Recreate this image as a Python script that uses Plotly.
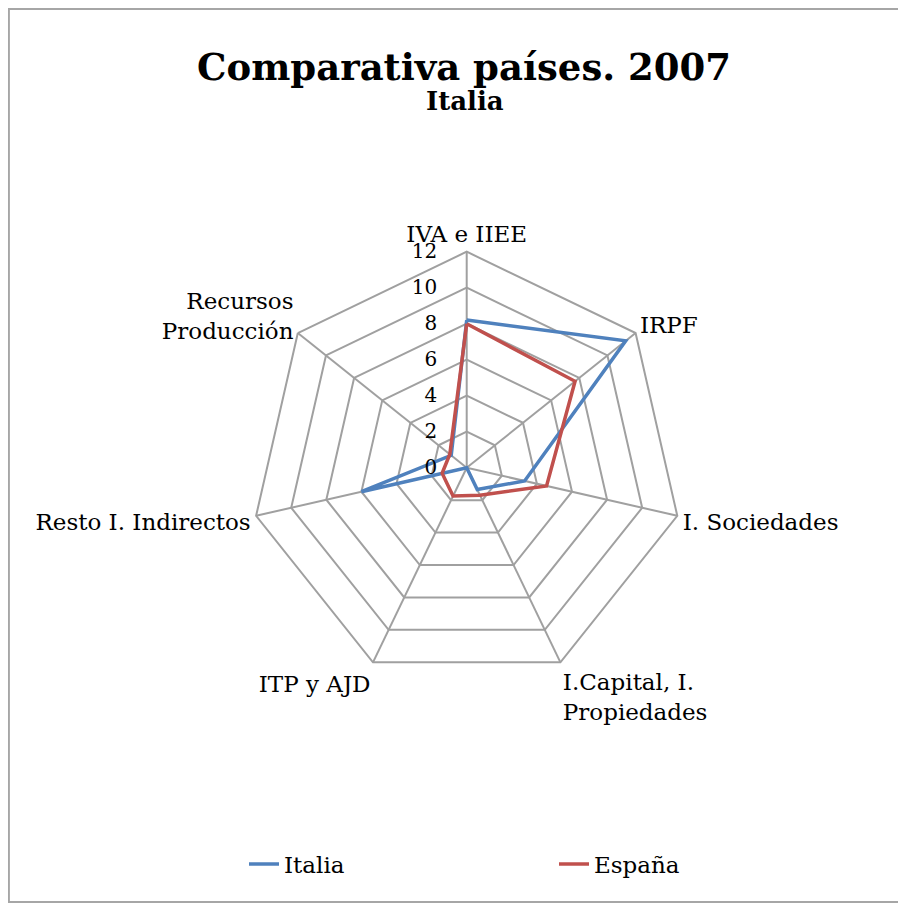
import plotly.graph_objects as go

categories = ["IVA e IIEE", "IRPF", "I. Sociedades", "I.Capital, I.<br>Propiedades",
              "ITP y AJD", "Resto I. Indirectos", "Recursos<br>Producción"]
italia = [8.2, 11.3, 3.3, 1.35, 0.0, 6.0, 1.1]
espana = [8.0, 7.7, 4.55, 1.7, 1.75, 1.4, 1.2]
tick_vals = [0, 2, 4, 6, 8, 10, 12]

FONT = "DejaVu Serif"
OFF = 8  # page body margin
W, H = 906 - OFF, 910 - OFF

fig = go.Figure()
fig.add_trace(go.Scatterpolar(r=italia + italia[:1], theta=categories + categories[:1],
                              mode="lines", name="Italia",
                              line=dict(color="#4F81BD", width=3.5)))
fig.add_trace(go.Scatterpolar(r=espana + espana[:1], theta=categories + categories[:1],
                              mode="lines", name="España",
                              line=dict(color="#C0504D", width=3.5)))

cx, cy, R = 466.7 - OFF, 467.7 - OFF, 216


def px(x):
    return (x - OFF) / W


def py(y):
    return 1 - (y - OFF) / H


fig.update_layout(
    width=W, height=H,
    margin=dict(l=0, r=0, t=0, b=0),
    paper_bgcolor="white",
    font=dict(family=FONT, size=23, color="black"),
    title=dict(text="<b>Comparativa países. 2007</b>",
               x=px(464), xanchor="center", y=py(80), yanchor="bottom",
               font=dict(family=FONT, size=37, color="black")),
    annotations=[dict(text="<b>Italia</b>", xref="paper", yref="paper",
                      x=px(465), y=py(101), xanchor="center", yanchor="middle",
                      showarrow=False, font=dict(family=FONT, size=26, color="black"))],
    polar=dict(
        domain=dict(x=[(cx - R) / W, (cx + R) / W], y=[1 - (cy + R) / H, 1 - (cy - R) / H]),
        bgcolor="white",
        gridshape="linear",
        radialaxis=dict(range=[0, 12], tickvals=tick_vals, angle=90, tickangle=90,
                        side="counterclockwise",
                        showline=False, gridcolor="#A0A0A0", gridwidth=2,
                        ticks="outside", ticklen=22, tickcolor="rgba(0,0,0,0)",
                        tickfont=dict(size=20)),
        angularaxis=dict(direction="clockwise", rotation=90, showline=True,
                         linecolor="#A0A0A0", linewidth=2, gridcolor="#A0A0A0",
                         gridwidth=2, ticks="", tickfont=dict(size=23)),
    ),
    legend=dict(orientation="h", x=px(244), xanchor="left", y=py(864), yanchor="middle",
                entrywidth=265, entrywidthmode="pixels", font=dict(size=23)),
    shapes=[dict(type="rect", xref="paper", yref="paper", x0=0.001, x1=px(902), y0=py(902), y1=0.999,
                 line=dict(color="#A6A6A6", width=2))],
)
fig.write_html("out.html")
